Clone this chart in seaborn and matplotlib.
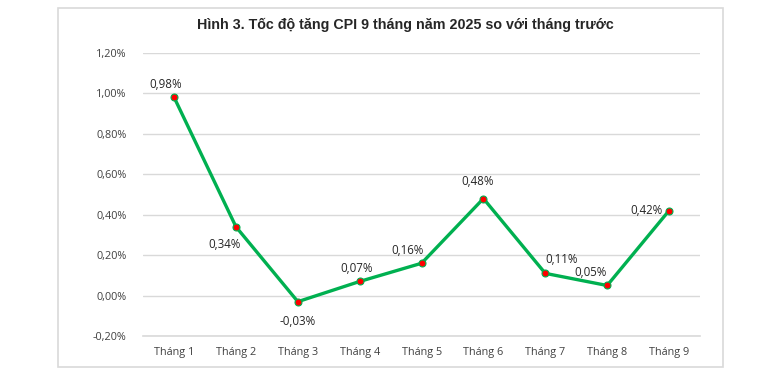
import matplotlib
matplotlib.use("Agg")
import matplotlib.pyplot as plt
import seaborn as sns
import pandas as pd
from matplotlib.patches import Rectangle
from matplotlib.ticker import FuncFormatter

months = ["Tháng 1", "Tháng 2", "Tháng 3", "Tháng 4", "Tháng 5",
          "Tháng 6", "Tháng 7", "Tháng 8", "Tháng 9"]
cpi = [0.98, 0.34, -0.03, 0.07, 0.16, 0.48, 0.11, 0.05, 0.42]
yticks = [-0.2, 0.0, 0.2, 0.4, 0.6, 0.8, 1.0, 1.2]
title = "Hình 3. Tốc độ tăng CPI 9 tháng năm 2025 so với tháng trước"

# label offsets (points) per point
offsets = [(-6, 9), (-8, -13), (0, -14), (-2, 9), (-10, 9),
           (-4, 12), (12, 10), (-12, 9), (-16, 0)]

df = pd.DataFrame({"month": months, "cpi": cpi})

sns.set_theme(style="white")
plt.rcParams["font.family"] = ["Open Sans", "DejaVu Sans"]

fig = plt.figure(figsize=(7.7, 3.81), dpi=100)
fig.patches.append(Rectangle((0.075, 0.037), 0.864, 0.942, transform=fig.transFigure,
                             fill=False, edgecolor="#d9d9d9", linewidth=1.2))
ax = fig.add_axes([0.186, 0.118, 0.723, 0.743])

sns.lineplot(data=df, x="month", y="cpi", ax=ax, color="#00b050", linewidth=2.4,
             sort=False, marker="o", markersize=5, markerfacecolor="#ff0000",
             markeredgecolor="#00b050", markeredgewidth=0.8)

for i, (v, off) in enumerate(zip(cpi, offsets)):
    txt = f"{v:.2f}%".replace(".", ",")
    ax.annotate(txt, (i, v), xytext=off, textcoords="offset points",
                ha="center", va="center", fontsize=8.3, color="#262626")

ax.set_ylim(-0.2, 1.2)
ax.set_xlim(-0.5, 8.5)
ax.set_yticks(yticks)
ax.yaxis.set_major_formatter(FuncFormatter(lambda y, p: f"{y:.2f}%".replace(".", ",")))
ax.grid(axis="y", color="#d9d9d9", linewidth=1)
ax.set_axisbelow(True)
for s in ax.spines.values():
    s.set_visible(False)
ax.spines["bottom"].set_visible(True)
ax.spines["bottom"].set_color("#d9d9d9")
ax.spines["bottom"].set_linewidth(1.2)
ax.tick_params(axis="both", length=0, labelsize=7.8, labelcolor="#404040")
ax.tick_params(axis="y", pad=12)
ax.tick_params(axis="x", pad=8)
ax.set_xlabel("")
ax.set_ylabel("")

fig.text(0.526, 0.935, title, ha="center", va="center", fontsize=10.3,
         fontweight="bold", color="#262626",
         family=["Liberation Sans Narrow", "Liberation Sans", "DejaVu Sans"])

fig.savefig("out.png", dpi=100, facecolor="white")
